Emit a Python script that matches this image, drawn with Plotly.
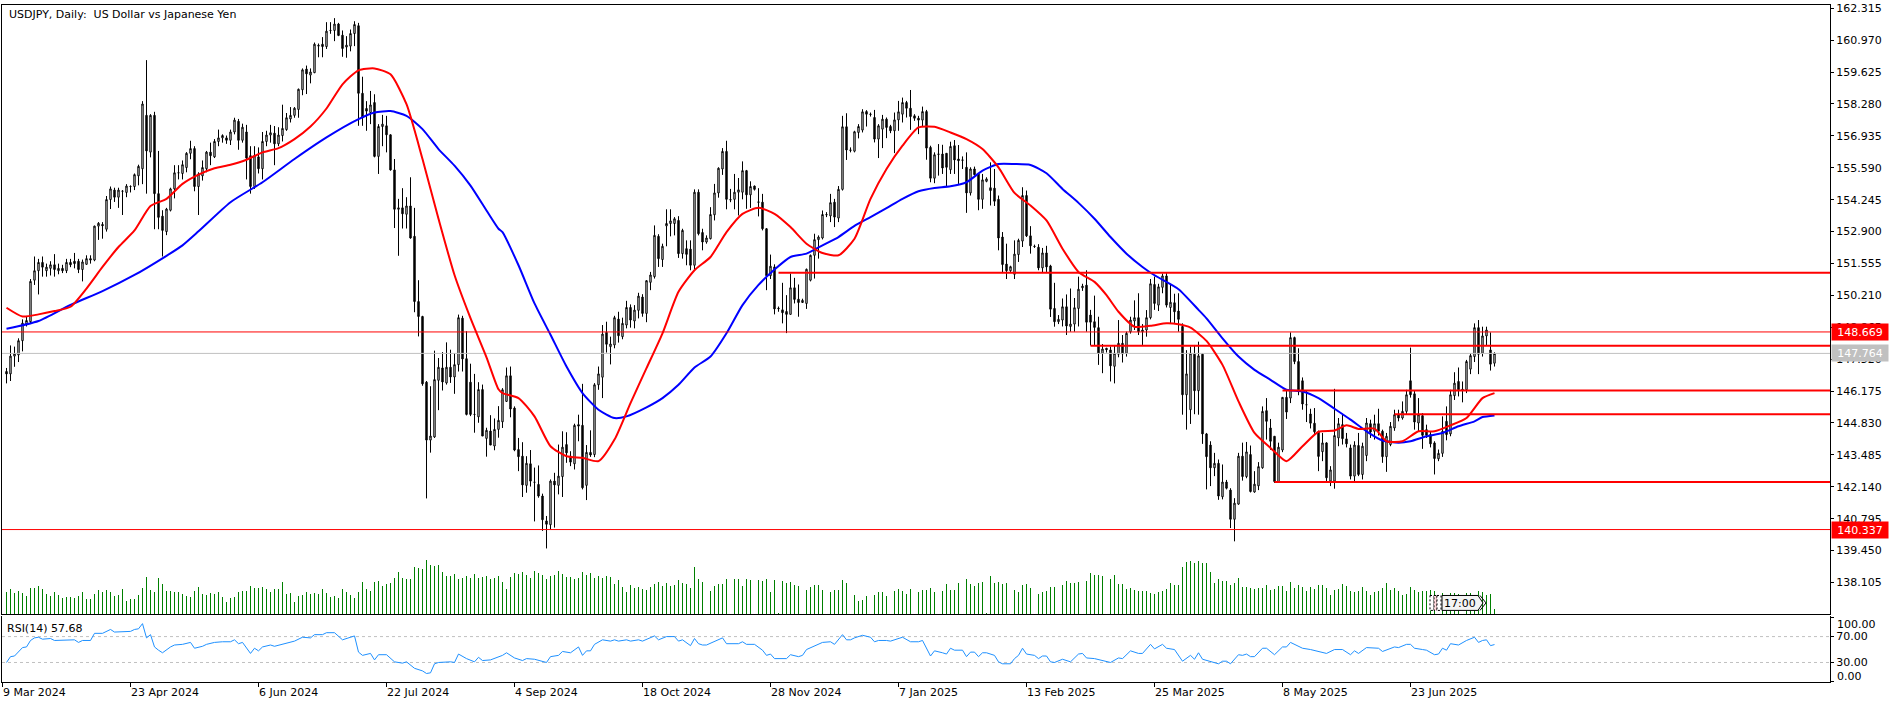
import plotly.graph_objects as go

# ---------- daily candles ----------
opens = [147.0,146.9,147.65,147.7,148.3,149.0,149.1,150.85,151.25,151.6,
151.25,151.35,151.5,151.25,151.35,151.25,151.6,151.65,151.65,151.3,
151.52,151.76,151.7,153.13,153.2,153.0,154.25,154.65,154.35,154.6,
154.55,154.8,154.8,155.25,155.55,157.8,156.25,157.8,154.5,153.55,
152.9,153.8,154.7,155.38,155.35,155.6,156.2,156.4,154.8,155.25,
155.55,156.25,156.05,156.7,156.85,156.85,156.75,157.1,157.55,156.75,
157.1,156.1,154.8,156.05,155.55,156.7,156.97,157.05,156.6,156.95,
157.2,157.65,157.8,158.05,158.88,159.75,159.5,159.6,160.72,160.8,
160.7,161.38,161.38,161.65,161.18,160.68,160.72,161.25,161.58,158.73,
158.09,157.92,158.34,156.07,157.33,157.36,156.98,155.5,153.84,153.9,
153.63,153.98,152.7,149.95,149.32,146.55,144.11,144.24,146.63,147.15,
146.52,147.18,146.77,147.29,149.25,147.54,146.55,145.19,145.09,146.24,
144.18,144.49,143.86,144.56,144.88,145.74,146.82,145.46,143.71,143.43,
142.2,143.11,142.33,142.24,141.75,140.7,140.54,142.38,142.2,142.57,
143.92,143.43,143.11,144.76,144.73,142.2,143.59,143.5,146.44,146.76,
148.65,148.05,148.12,149.21,148.47,148.96,149.7,149.13,149.58,150.14,
149.45,150.76,151.0,152.7,151.72,153.14,153.24,153.24,153.37,151.97,
152.18,152.16,151.48,154.56,152.86,152.46,152.6,153.61,154.53,155.54,
156.28,154.25,154.26,154.56,154.56,155.47,154.45,154.82,154.15,154.14,
153.02,151.04,151.41,149.67,149.6,149.53,149.41,150.53,150.05,149.91,
149.87,150.85,151.9,152.56,152.63,153.62,153.56,154.14,153.47,154.68,
157.32,156.34,156.29,157.08,157.18,157.96,157.85,157.71,156.8,157.22,
157.64,157.33,157.15,157.61,157.85,158.34,158.1,157.78,157.68,157.6,
157.96,156.45,155.15,156.17,156.17,156.2,155.51,156.52,155.96,155.92,
155.61,154.53,155.54,155.33,154.26,155.02,154.75,154.73,154.26,152.67,
151.53,151.25,151.1,151.93,152.5,154.42,152.72,152.28,152.24,151.37,
152.0,151.45,149.66,149.1,149.17,149.73,148.9,149.0,149.66,150.53,
150.64,149.38,149.1,148.85,147.77,147.98,147.91,147.22,147.73,148.19,
147.77,148.68,149.13,149.27,148.68,148.75,149.27,150.67,149.8,150.55,
151.03,149.7,149.9,149.55,148.9,146.02,145.39,147.73,146.19,147.73,
144.37,143.9,142.94,143.13,141.72,142.34,142.0,140.77,141.41,143.43,
142.57,143.5,141.92,142.18,142.94,145.35,144.62,144.27,142.36,143.69,
145.91,145.88,148.43,147.42,146.61,145.6,145.21,144.82,144.46,143.62,
143.99,142.38,142.38,144.2,144.76,144.16,143.78,142.59,143.88,142.66,
143.46,144.8,144.48,144.8,144.48,143.41,143.92,144.62,145.18,145.04,
145.32,146.61,146.06,144.83,145.14,144.55,144.34,143.99,143.32,143.55,
144.9,144.37,145.98,146.58,146.2,146.23,147.1,147.63,148.85,147.77,
148.5,147.91,147.35]
highs = [147.15,148.1,148.05,148.4,149.2,149.3,150.9,151.85,151.75,151.85,
151.55,151.65,151.95,151.55,151.5,151.75,151.75,152.0,151.75,151.72,
151.9,151.9,153.15,153.3,153.3,154.4,154.8,154.75,154.75,154.65,
154.9,154.85,155.35,155.72,158.4,160.13,157.85,157.95,156.3,153.8,
153.9,154.75,155.7,155.7,155.9,156.25,156.73,156.5,155.4,155.9,
156.3,156.65,156.8,157.2,157.0,156.95,157.2,157.7,157.65,157.45,
157.4,156.5,156.5,156.45,157.1,157.15,157.4,157.35,157.3,158.25,
157.9,158.15,158.15,158.93,159.78,159.9,159.78,160.87,160.83,161.1,
161.73,161.73,161.9,161.7,161.38,161.14,161.42,161.77,161.7,159.43,
158.4,158.83,158.69,157.43,157.82,157.78,157.0,155.96,154.28,154.73,
154.35,155.19,153.9,150.85,149.35,146.6,146.38,147.88,147.57,147.82,
148.23,147.92,147.78,149.4,149.35,148.7,147.33,146.9,146.55,146.45,
144.63,145.16,145.02,145.54,146.3,147.17,147.21,145.53,144.2,144.02,
143.43,143.69,142.95,143.04,141.85,140.91,142.45,142.73,143.92,144.48,
144.44,143.64,144.8,145.18,146.48,143.9,144.52,146.51,147.21,148.96,
149.1,148.47,149.35,149.52,149.27,149.98,149.83,149.8,150.32,150.26,
150.85,151.2,153.16,152.79,152.39,153.84,153.84,153.51,153.55,153.02,
152.53,152.53,154.68,154.68,153.02,152.74,153.93,154.91,155.61,156.42,
156.73,154.7,155.33,155.16,155.86,155.5,155.02,154.84,154.73,154.49,
153.05,151.93,151.52,149.74,150.74,150.22,151.13,150.95,150.67,150.07,
151.34,151.93,152.81,152.74,153.79,153.72,154.49,154.28,154.82,157.78,
157.89,156.45,157.15,157.43,158.06,158.02,157.92,158.03,157.43,157.82,
157.71,157.4,157.92,158.41,158.55,158.41,158.87,157.85,157.78,158.17,
158.03,156.52,156.24,156.59,156.56,156.21,156.69,156.76,156.55,156.07,
156.24,155.61,155.64,155.37,155.33,155.19,155.82,155.54,154.42,152.88,
152.39,151.46,152.53,152.6,154.77,154.63,153.13,152.35,152.37,152.21,
152.3,151.5,150.74,149.38,150.08,150.25,150.5,150.1,151.0,150.7,
151.27,149.6,150.2,149.31,148.16,148.0,148.05,148.12,149.17,148.54,
148.68,149.31,150.0,150.3,149.0,149.59,150.9,151.0,150.7,151.13,
151.15,150.7,150.28,150.3,149.03,147.9,148.05,148.12,148.26,147.77,
144.41,144.06,143.57,143.29,143.08,142.43,142.08,141.66,143.57,144.0,
144.03,143.88,142.8,143.18,145.53,145.88,145.0,144.27,144.0,145.92,
146.25,148.65,148.47,147.98,146.75,146.2,145.43,145.46,144.51,144.41,
144.02,143.01,146.27,145.04,145.18,144.41,143.92,144.06,144.41,144.0,
145.04,144.97,145.18,145.43,144.55,144.41,144.87,145.39,145.39,145.74,
146.23,148.01,146.2,145.88,145.25,144.76,144.48,144.06,143.71,145.11,
145.53,146.23,146.97,147.17,146.58,147.49,147.77,149.03,149.17,148.89,
148.89,148.65,147.81]
lows = [146.5,146.6,147.2,147.4,147.85,148.9,149.0,150.65,150.25,151.0,
151.0,151.05,151.0,151.1,151.15,151.15,151.4,151.35,151.15,150.8,
151.5,151.55,151.65,152.55,152.6,152.9,153.85,154.15,153.9,153.6,
154.35,154.55,154.65,154.85,154.9,154.5,156.03,153.0,153.0,151.85,
152.75,153.75,154.3,155.1,155.1,155.4,155.95,154.6,153.6,155.05,
155.4,155.7,156.0,156.5,156.65,156.6,156.55,157.0,156.35,156.65,
155.1,154.5,154.7,155.35,155.1,156.5,156.65,155.7,156.5,156.7,
157.15,157.5,157.7,157.7,158.65,158.7,159.15,159.58,160.25,160.25,
160.6,161.24,160.93,161.14,160.27,160.23,160.5,160.72,157.36,157.36,
157.15,157.43,156.03,155.33,156.5,156.24,155.47,153.05,151.88,153.03,
153.03,152.6,149.5,148.48,146.4,141.65,143.58,144.2,145.37,146.2,
146.45,146.52,146.06,147.0,147.0,145.15,145.12,144.42,144.84,144.28,
143.41,143.9,143.68,144.21,144.62,145.72,145.07,143.64,142.8,141.71,
141.89,142.15,140.68,141.68,140.28,139.54,140.35,140.42,141.82,141.71,
143.15,143.01,142.87,144.06,142.03,141.58,143.4,143.39,146.23,145.88,
147.8,147.3,147.98,148.22,148.36,148.82,148.85,148.82,149.24,149.31,
149.08,150.43,150.92,151.41,151.41,152.28,152.7,152.74,151.79,151.76,
151.48,151.27,151.27,152.74,152.11,152.39,152.57,153.37,154.33,155.29,
153.84,154.14,153.84,153.58,154.26,153.86,153.9,154.63,153.54,152.95,
150.43,150.9,149.41,149.52,149.03,148.62,149.41,149.87,149.31,149.89,
149.64,150.8,150.92,151.76,152.57,153.51,153.3,153.09,153.3,154.63,
155.92,156.24,156.24,156.83,157.08,157.33,157.75,156.66,156.0,156.42,
156.84,157.05,156.21,157.15,157.5,157.71,157.19,157.57,157.01,157.33,
155.93,154.98,154.94,155.26,155.33,154.82,155.33,155.33,154.91,155.54,
153.69,154.42,155.26,153.8,153.86,154.98,154.0,153.98,152.11,151.15,
150.9,151.2,150.9,151.62,152.25,152.67,151.97,152.21,151.27,151.18,
151.2,149.3,148.89,149.0,148.9,148.54,148.68,148.68,148.9,150.4,
148.68,148.1,148.12,147.28,146.93,147.8,146.58,146.5,147.6,147.38,
147.63,148.6,148.75,148.54,148.12,148.47,149.2,149.6,149.55,150.3,
149.7,149.03,149.05,148.68,145.18,144.55,144.79,145.2,145.18,143.95,
142.03,142.17,142.59,141.59,141.61,142.03,140.4,139.84,141.38,142.4,
142.5,141.9,141.89,142.0,142.9,144.13,143.7,142.3,142.3,143.6,
145.0,145.67,147.31,146.0,145.39,144.87,144.6,144.34,142.8,143.22,
142.31,142.17,142.06,143.85,143.92,143.8,142.45,142.38,142.59,142.45,
143.22,144.2,144.13,144.3,143.15,142.77,143.85,144.5,144.9,144.97,
145.2,145.9,144.55,144.49,143.74,144.2,143.8,142.66,143.22,143.4,
144.1,144.27,145.8,145.95,145.7,146.09,146.89,147.4,146.89,147.63,
148.1,147.04,147.21]
closes = [146.9,147.65,147.75,148.3,149.04,149.15,150.8,151.25,151.6,151.4,
151.4,151.5,151.3,151.35,151.25,151.6,151.5,151.55,151.3,151.62,
151.76,151.7,153.13,153.25,153.15,154.25,154.7,154.35,154.65,154.6,
154.82,154.8,155.3,155.65,158.28,156.3,157.8,154.5,153.5,152.95,
153.85,154.7,155.38,155.38,155.72,156.2,156.4,154.8,155.33,155.6,
156.25,156.1,156.7,156.85,156.95,156.75,157.1,157.6,156.75,157.3,
156.0,154.8,156.1,155.55,156.7,156.97,157.07,156.6,156.97,157.25,
157.7,157.8,158.1,158.9,159.72,159.55,159.63,160.8,160.75,160.7,
161.35,161.38,161.65,161.17,160.62,160.76,161.25,161.63,158.73,157.7,
157.98,158.24,156.07,157.33,157.43,156.98,155.5,153.84,153.9,153.65,
153.98,152.63,149.95,149.32,146.48,144.11,144.28,146.66,147.18,146.56,
147.18,146.77,147.29,149.27,147.53,145.19,145.19,145.19,146.24,144.28,
144.52,143.9,144.56,144.94,146.23,146.82,145.42,143.69,143.41,142.22,
143.13,142.38,142.33,141.75,140.75,140.56,142.38,142.22,142.59,143.81,
143.57,143.18,144.73,144.7,142.1,143.59,143.48,146.44,146.9,148.58,
148.15,148.16,149.27,148.51,149.03,149.7,149.17,149.59,150.18,149.45,
150.83,151.07,152.74,151.76,152.28,153.24,153.35,153.44,151.97,152.95,
151.94,151.48,154.56,152.81,152.46,152.63,153.62,154.53,155.57,156.28,
154.26,154.24,154.56,154.66,155.47,154.45,154.8,154.68,154.14,153.02,
151.04,151.44,149.64,149.65,149.48,149.41,150.53,150.04,149.91,150.0,
151.31,151.9,152.56,152.67,153.62,153.61,154.12,153.51,154.68,157.32,
156.34,156.33,157.11,157.33,157.95,157.85,157.84,156.8,157.36,157.64,
157.29,157.15,157.61,157.95,158.34,158.1,157.75,157.68,157.6,157.96,
156.42,155.15,156.14,156.16,155.58,155.61,156.49,155.92,155.89,155.91,
154.53,155.54,155.3,154.26,155.08,155.12,154.63,154.18,152.63,151.51,
151.25,151.42,151.95,152.53,154.42,152.72,152.3,152.27,151.37,152.0,
151.41,149.63,149.1,149.2,149.73,148.92,149.0,149.69,150.47,150.6,
149.08,149.08,148.86,147.77,147.95,147.92,147.24,147.77,148.19,147.74,
148.61,149.17,149.27,148.68,148.75,149.27,150.7,149.87,150.57,151.03,
149.8,149.92,149.52,149.2,146.02,146.9,147.77,146.19,147.66,144.37,
143.41,142.94,143.13,141.75,142.34,142.08,140.77,141.45,143.43,142.57,
143.61,141.94,142.25,142.99,145.32,144.9,144.06,142.36,143.81,145.91,
145.29,148.43,147.42,146.23,145.63,145.6,144.82,144.46,143.42,143.99,
142.52,142.85,144.3,144.8,144.17,143.95,142.59,143.9,142.66,143.85,
144.83,144.45,144.8,144.48,143.41,144.27,144.69,145.18,145.04,145.32,
146.02,146.02,144.87,145.18,144.31,144.31,143.95,143.33,143.55,144.48,
144.34,146.02,146.51,146.23,146.25,147.42,147.67,148.85,147.73,148.5,
148.75,147.31,147.76]

# ---------- moving averages, read at selected bars ----------
red_bar = [0,4,8,12,16,20,24,28,32,36,40,44,48,52,56,60,64,68,72,76,80,84,88,92,96,100,104,108,112,116,120,123,
124,128,132,136,140,144,148,152,156,160,164,168,172,176,180,184,188,192,196,200,204,208,212,216,220,224,228,232,236,240,244,248,
252,256,260,264,268,272,275,278,282,286,290,293,296,300,304,308,312,316,320,324,328,332,335,338,342,345,349,353,357,361,365,369,372]
red_val = [149.69,149.32,149.41,149.55,149.73,150.5,151.41,152.25,152.95,153.98,154.28,154.91,155.3,155.57,155.72,155.93,156.24,156.42,156.8,157.33,158.09,159.11,159.7,159.78,159.53,158.27,155.96,153.44,151.07,149.25,147.6,146.25,
146.09,145.88,145.11,143.85,143.43,143.36,143.22,144.13,145.67,147.14,148.61,150.36,151.27,151.83,152.88,153.65,153.9,153.65,153.09,152.39,152.0,151.9,152.6,154.28,155.54,156.52,157.29,157.32,157.08,156.8,156.38,155.61,
154.53,154.0,153.37,152.18,151.2,150.78,150.22,149.52,148.89,148.93,149.03,148.99,148.85,148.29,147.28,145.74,144.41,143.78,143.22,143.85,144.46,144.51,144.73,144.58,144.59,144.06,144.06,144.48,144.48,144.73,145.04,145.88,146.09]
blue_bar = [0,8,16,24,32,40,44,48,56,64,72,80,88,92,96,100,104,108,112,116,120,123,124,128,132,136,140,144,148,152,155,160,164,168,172,176,180,184,188,192,196,200,204,208,212,216,220,224,228,232,236,240,244,248,252,256,260,264,268,272,276,280,284,287,293,298,300,304,308,312,316,320,324,328,332,336,340,344,348,351,355,359,363,367,369,372]
blue_val = [148.8,149.13,149.81,150.39,151.07,151.88,152.32,152.91,154.14,154.98,155.96,156.87,157.64,157.92,157.98,157.78,157.22,156.38,155.68,154.84,153.79,153.02,152.88,151.48,149.87,148.55,147.21,146.09,145.39,145.04,145.11,145.49,145.88,146.44,147.17,147.63,148.61,149.8,150.65,151.3,151.83,151.97,152.32,152.67,153.14,153.51,153.89,154.28,154.6,154.74,154.81,154.98,155.47,155.75,155.75,155.71,155.36,154.7,154.11,153.44,152.67,151.97,151.41,151.06,150.47,149.6,149.24,148.4,147.63,147.07,146.65,146.23,146.16,145.88,145.43,144.97,144.48,144.09,144.0,144.06,144.27,144.41,144.69,144.9,145.08,145.15]

# ---------- tick volume (relative units) ----------
volume = [68,76,65,70,63,56,80,80,85,76,61,55,68,58,49,52,52,49,56,67,
47,47,61,73,69,73,69,55,58,76,40,47,47,58,80,112,73,67,109,91,
70,70,68,67,61,55,52,70,82,61,58,64,61,67,52,37,49,52,67,70,
70,85,81,81,82,76,67,76,76,97,61,64,37,55,58,67,61,63,61,76,
64,52,56,48,76,67,58,49,67,97,76,70,97,100,85,91,94,109,127,109,
106,106,142,139,136,163,148,145,148,127,115,115,121,106,109,115,109,121,110,112,
115,106,110,115,
99,78,114,126,123,129,120,111,132,126,120,108,117,120,132,123,114,114,108,111,
129,120,126,111,117,111,117,114,93,105,84,69,90,81,84,78,75,84,93,99,
87,96,87,90,105,96,93,81,144,108,99,1,72,87,93,93,108,1,108,108,
87,108,105,1,105,102,108,66,105,2,102,96,99,90,87,1,75,84,90,90,
75,1,66,75,75,105,96,1,57,39,42,54,1,57,66,66,54,1,72,78,
72,60,78,1,69,75,75,81,69,1,72,93,75,75,96,1,108,93,87,96,
99,2,117,96,99,
93,96,1,75,69,90,93,81,1,60,69,72,84,84,1,90,102,96,96,99,
1,102,126,120,120,117,1,108,120,93,93,78,81,75,72,72,72,63,60,66,
72,78,96,90,90,144,159,162,156,162,156,156,129,96,108,102,102,90,96,111,
84,84,81,78,81,81,90,75,78,87,87,72,99,81,90,84,72,84,78,90,
90,81,57,75,78,93,87,72,66,72,84,72,57,66,72,81,96,75,81,72,
57,60,84,75,69,72,72,75,72,1,63,57,63,63,60,1,63,63,57,72,
66,57,60,15]

# ---------- RSI(14), read at selected bars ----------
rsi_bar = [0,1,2,3,4,5,6,7,8,9,11,12,14,17,18,19,21,22,24,26,27,31,32,33,34,35,36,37,38,39,41,42,44,46,47,49,50,52,54,56,57,58,59,61,62,63,64,66,67,69,72,74,76,77,79,80,82,84,85,87,88,89,91,92,93,95,97,98,99,100,102,104,105,106,107,108,111,112,113,115,117,118,119,121,123,
124,125,127,129,130,132,135,136,138,139,141,143,144,145,146,147,149,151,152,153,155,156,158,159,162,163,165,167,168,169,171,172,173,174,175,179,180,183,184,185,187,189,190,191,192,195,196,198,199,200,203,204,206,207,209,210,211,212,214,216,217,218,220,221,224,226,228,229,231,232,234,235,236,237,239,240,241,242,243,244,245,247,248,
249,251,252,253,254,255,257,258,259,260,261,262,264,266,268,269,270,272,274,276,278,279,281,283,284,286,287,289,290,292,294,296,297,298,299,301,303,304,305,306,308,309,310,311,312,314,315,317,319,320,321,324,326,330,332,334,336,337,338,340,343,344,347,348,350,351,352,354,355,357,358,359,360,361,363,365,367,368,369,370,371,372]
rsi_val = [30,39,40,46,53,54,64,68,69,66,67,64,64,65,61,64,64,75,75,81,77,78,81,82,90,68,73,54,49,45,54,57,58,61,52,55,58,61,62,62,65,59,61,44,52,48,54,57,55,58,63,69,68,73,73,76,76,65,67,71,46,41,44,34,42,42,31,30,29,31,21,17,13,14,28,30,31,30,43,36,31,38,33,34,38,
41,45,37,33,36,35,30,39,41,47,45,54,41,48,48,58,65,63,65,63,65,63,65,63,71,65,70,70,63,65,56,67,59,57,57,68,59,59,62,58,58,49,41,43,36,36,42,39,41,50,58,61,62,58,73,65,65,68,72,69,62,64,64,63,69,62,62,64,40,48,45,43,52,49,49,39,46,46,39,45,45,41,31,
28,28,36,41,52,43,41,36,40,40,31,30,35,31,43,44,37,36,33,30,37,36,48,44,44,58,51,58,52,50,32,41,35,45,35,32,28,32,32,28,42,41,43,39,39,52,52,42,54,54,61,52,50,44,50,50,42,48,44,53,52,47,54,53,58,58,52,50,49,42,43,52,49,59,57,64,69,61,64,65,56,57.68]

# ---------- labels and levels ----------
price_ticks = [162.315,160.970,159.625,158.280,156.935,155.590,154.245,152.900,151.555,150.210,
               148.865,147.520,146.175,144.830,143.485,142.140,140.795,139.450,138.105]
rsi_ticks = [100,70,30,0]
date_labels = ["9 Mar 2024","23 Apr 2024","6 Jun 2024","22 Jul 2024","4 Sep 2024","18 Oct 2024",
               "28 Nov 2024","7 Jan 2025","13 Feb 2025","25 Mar 2025","8 May 2025","23 Jun 2025"]
date_bars = [-1.125,30.875,62.875,94.875,126.875,158.875,190.875,222.875,254.875,286.875,318.875,350.875]
thin_levels = [148.669,140.337]
bid_level = 147.764
thick_levels = [151.16,148.09,146.2,145.2,142.34]
thick_start = [193,271,319,347,317]
rsi_levels = [70,30]

assert len(opens)==len(highs)==len(lows)==len(closes)==len(volume)==373, (len(opens),len(highs),len(lows),len(closes),len(volume))
assert len(red_bar)==len(red_val) and len(blue_bar)==len(blue_val) and len(rsi_bar)==len(rsi_val), (len(red_bar),len(red_val),len(blue_bar),len(blue_val),len(rsi_bar),len(rsi_val))

W, H = 1900, 706
FONT = "DejaVu Sans"
def px(x): return x / W
def py(y): return 1 - y / H

X0, X1 = -1.125, 455.875
bars = list(range(len(opens)))
fig = go.Figure()

fig.add_trace(go.Bar(x=bars, y=volume, width=0.25, marker=dict(color="#008000", line_width=0),
                     xaxis="x", yaxis="y3", hoverinfo="skip"))
fig.add_trace(go.Candlestick(x=bars, open=opens, high=highs, low=lows, close=closes,
    increasing=dict(fillcolor="#ffffff", line=dict(color="#000000", width=1)),
    decreasing=dict(fillcolor="#000000", line=dict(color="#000000", width=1)),
    whiskerwidth=0, xaxis="x", yaxis="y", hoverinfo="skip"))
fig.add_trace(go.Scatter(x=[X0, X1], y=[bid_level]*2, mode="lines", line=dict(color="#c0c0c0", width=1), xaxis="x", yaxis="y"))
fig.add_trace(go.Scatter(x=blue_bar, y=blue_val, mode="lines",
                         line=dict(color="#0000ff", width=2, shape="spline", smoothing=0.6), xaxis="x", yaxis="y"))
fig.add_trace(go.Scatter(x=red_bar, y=red_val, mode="lines",
                         line=dict(color="#ff0000", width=2, shape="spline", smoothing=0.6), xaxis="x", yaxis="y"))
for lv in thin_levels:
    fig.add_trace(go.Scatter(x=[X0, X1], y=[lv]*2, mode="lines", line=dict(color="#ff0000", width=1), xaxis="x", yaxis="y"))
for lv, st in zip(thick_levels, thick_start):
    fig.add_trace(go.Scatter(x=[st, X1], y=[lv]*2, mode="lines", line=dict(color="#ff0000", width=2), xaxis="x", yaxis="y"))
for lv in rsi_levels:
    fig.add_trace(go.Scatter(x=[X0, X1], y=[lv]*2, mode="lines", line=dict(color="#c0c0c0", width=1, dash="3px,3px"), xaxis="x2", yaxis="y2"))
fig.add_trace(go.Scatter(x=rsi_bar, y=rsi_val, mode="lines", line=dict(color="#1e90ff", width=1), xaxis="x2", yaxis="y2"))

axis_font = dict(family=FONT, size=11, color="#000000")
def price_box(level, color):
    return dict(text=f"{level:.3f}", x=px(1860), y=level, xref="paper", yref="y", showarrow=False,
                xanchor="center", yanchor="middle",
                font=dict(family=FONT, size=11, color="#ffffff"), bgcolor=color, width=54, height=14, align="center")
def rsi_edge_label(text, y):
    return dict(text=text, x=px(1835), y=py(y), xref="paper", yref="paper", showarrow=False,
                xanchor="left", yanchor="middle", font=axis_font)
annos = [
    dict(text="USDJPY, Daily:\u00a0\u00a0US Dollar vs Japanese Yen", x=px(7), y=py(12), xref="paper", yref="paper",
         xanchor="left", yanchor="middle", showarrow=False, font=axis_font),
    dict(text="RSI(14) 57.68", x=px(5), y=py(628), xref="paper", yref="paper",
         xanchor="left", yanchor="middle", showarrow=False, font=axis_font),
    dict(text="17:00", x=px(1460), y=py(603), xref="paper", yref="paper", showarrow=False,
         xanchor="center", yanchor="middle", font=axis_font),
    price_box(thin_levels[0], "#ff0000"),
    price_box(thin_levels[1], "#ff0000"),
    price_box(bid_level, "#c0c0c0"),
    rsi_edge_label(f"{rsi_ticks[0]:.2f}", 624),
    rsi_edge_label(f"{rsi_ticks[3]:.2f}", 676),
]
def rect(x0, y0, x1, y1, **kw):
    return dict(type="rect", xref="paper", yref="paper", x0=px(x0), x1=px(x1), y0=py(y0), y1=py(y1), layer="above", **kw)
box_path = "M {} {} L {} {} L {} {} L {} {} L {} {} Z".format(
    px(1442), py(595), px(1478), py(595), px(1483), py(602.5), px(1478), py(610), px(1442), py(610))
tail_path = "M {} {} L {} {} L {} {}".format(px(1480), py(595), px(1486), py(602.5), px(1480), py(610))
shapes = [
    rect(1430, 595, 1434, 610, line=dict(color="#000000", width=1, dash="2px,2px"), fillcolor="#ffffff"),
    rect(1434, 595, 1437, 610, line=dict(color="#000000", width=1, dash="2px,2px"), fillcolor="#ffd8dc"),
    rect(1437, 595, 1441, 610, line=dict(color="#000000", width=1, dash="2px,2px"), fillcolor="#ffffff"),
    dict(type="path", xref="paper", yref="paper", path=box_path, layer="above",
         line=dict(color="#000000", width=1), fillcolor="#f4f4f4"),
    dict(type="path", xref="paper", yref="paper", path=tail_path, layer="above",
         line=dict(color="#000000", width=1)),
]

fig.update_layout(
    width=W, height=H, margin=dict(l=0, r=0, t=0, b=0), paper_bgcolor="#ffffff", plot_bgcolor="#ffffff",
    showlegend=False, boxgap=0.5, bargap=0, hovermode=False, annotations=annos, shapes=shapes,
    font=axis_font,
    xaxis=dict(domain=[px(2), px(1830)], range=[X0, X1], anchor="y", showgrid=False, zeroline=False,
               showticklabels=False, ticks="", showline=True, linecolor="#000000", linewidth=1, mirror=True,
               rangeslider=dict(visible=False)),
    yaxis=dict(domain=[py(614), py(2)], range=[136.76, 162.454], anchor="x", side="right", showgrid=False,
               zeroline=False, tickmode="array", tickvals=price_ticks, ticktext=[f"{t:.3f}" for t in price_ticks],
               ticks="outside", ticklen=3, tickcolor="#000000", tickwidth=1, tickfont=axis_font,
               ticklabeloverflow="allow", showline=True, linecolor="#000000", linewidth=1, mirror=True),
    yaxis3=dict(domain=[py(614), py(2)], range=[0, 1836], overlaying="y", anchor="x", visible=False, fixedrange=True),
    xaxis2=dict(domain=[px(2), px(1830)], range=[X0, X1], anchor="y2", showgrid=False, zeroline=False,
                tickmode="array", tickvals=date_bars, ticktext=date_labels, ticks="outside", ticklen=4,
                tickcolor="#000000", tickfont=axis_font, ticklabelposition="outside right",
                ticklabeloverflow="allow", showline=True, linecolor="#000000", linewidth=1),
    yaxis2=dict(domain=[py(682), py(616)], range=[-0.3, 101.2], anchor="x2", side="right", showgrid=False,
                zeroline=False, tickmode="array", tickvals=rsi_ticks,
                ticktext=["" if t in (100, 0) else f"{t:.2f}" for t in rsi_ticks],
                ticks="outside", ticklen=3, tickcolor="#000000", tickfont=axis_font,
                showline=True, linecolor="#000000", linewidth=1, mirror=True),
)

fig.write_html("out.html", config=dict(displayModeBar=False, responsive=False),
               post_script="document.body.style.margin='0';document.body.style.overflow='hidden';")
